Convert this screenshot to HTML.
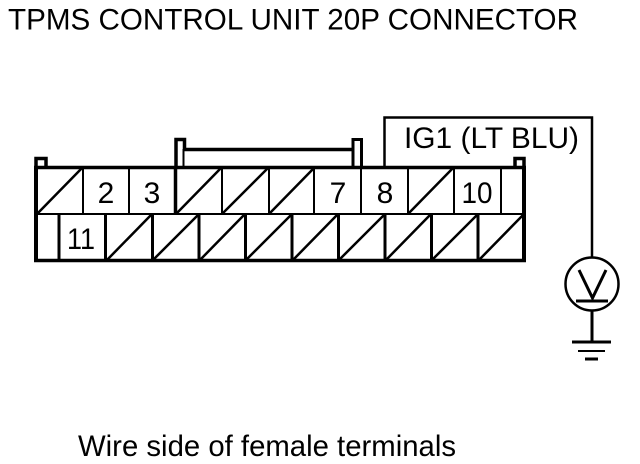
<!DOCTYPE html>
<html>
<head>
<meta charset="utf-8">
<style>
html,body{margin:0;padding:0;background:#fff;width:640px;height:464px;overflow:hidden}
svg{display:block}
text{font-family:"Liberation Sans",sans-serif;fill:#000}
</style>
</head>
<body>
<svg width="640" height="464" viewBox="0 0 640 464" xmlns="http://www.w3.org/2000/svg">
<text x="8" y="29.500" font-size="29.500" textLength="570" lengthAdjust="spacingAndGlyphs">TPMS CONTROL UNIT 20P CONNECTOR</text>
<text x="78" y="456" font-size="29.500" textLength="378" lengthAdjust="spacingAndGlyphs">Wire side of female terminals</text>
<text x="404" y="148" font-size="29.500" textLength="175" lengthAdjust="spacingAndGlyphs">IG1 (LT BLU)</text>

<g font-size="30" text-anchor="middle">
<text x="106" y="203">2</text>
<text x="152" y="203">3</text>
<text x="338" y="203">7</text>
<text x="385" y="203">8</text>
<text x="477" y="203" textLength="31" lengthAdjust="spacingAndGlyphs">10</text>
<text x="81" y="249" textLength="28" lengthAdjust="spacingAndGlyphs">11</text>
</g>

<g fill="none" stroke="#000">
<!-- wire -->
<path d="M384.500 167V117.500H592V258" stroke-width="2.500"/>
<!-- small tabs -->
<path d="M36 167V158.500H46V167" stroke-width="3.500"/>
<path d="M515 167V158.500H524V167" stroke-width="3.500"/>
<!-- lock -->
<path d="M176 167V139.500H184.500V149" stroke-width="3.500"/>
<path d="M183.500 149V167" stroke-width="2"/>
<path d="M184 149.500H352" stroke-width="3.500"/>
<path d="M353 167V139.500H361.500V167" stroke-width="3"/>
<!-- body -->
<path d="M34 167.500H526M34 260.500H526" stroke-width="3.500"/>
<path d="M36 166V262M524 166V262" stroke-width="4"/>
<path d="M36 214H524" stroke-width="2"/>
<!-- top row dividers -->
<path d="M83 167V214M129 167V214M222 167V214M269 167V214M314 167V214M361 167V214M408 167V214M454 167V214M501 167V214" stroke-width="2"/>
<path d="M175.500 167V214" stroke-width="3.500"/>
<!-- bottom row dividers -->
<path d="M59 214V261M105.500 214V261M152.500 214V261M199 214V261M245.500 214V261M292 214V261M338.500 214V261M385 214V261M431.500 214V261M478 214V261" stroke-width="3"/>
<!-- diagonals -->
<path d="M37 214L83 167M176 214L222 167M222 214L269 167M269 214L315 167M408 214L454 167M106 261L152 214M152 261L199 214M199 261L245 214M245 261L292 214M292 261L338 214M338 261L385 214M385 261L431 214M431 261L478 214M478 261L524 214" stroke-width="2.500"/>
<!-- voltmeter -->
<circle cx="592" cy="284" r="26.500" stroke-width="2.500"/>
<path d="M579 270L592.500 298L606 270" stroke-width="3"/>
<path d="M576 301H608" stroke-width="3"/>
<path d="M592 310V342" stroke-width="3"/>
<path d="M572 342H611" stroke-width="3"/>
<path d="M578 351H605" stroke-width="2"/>
<path d="M585 359H598" stroke-width="3"/>
</g>
</svg>
</body>
</html>
